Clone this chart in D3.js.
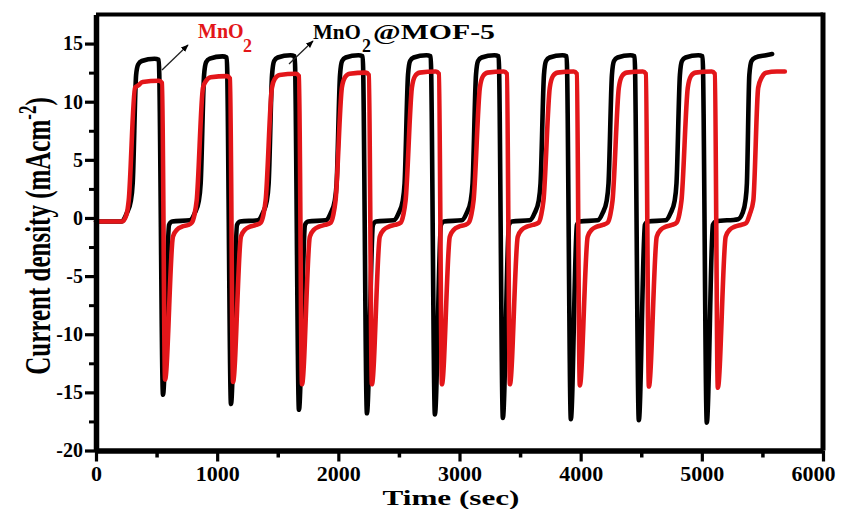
<!DOCTYPE html>
<html>
<head>
<meta charset="utf-8">
<script src="https://cdn.jsdelivr.net/npm/d3@7"></script>
<style>
  html, body { margin: 0; padding: 0; background: #fff; }
  svg { display: block; }
  text { font-family: "Liberation Serif", "Times New Roman", serif; font-weight: bold; }
</style>
</head>
<body>
<svg id="chart" width="841" height="509"></svg>
<script>
"use strict";

var xTicks = [0, 1000, 2000, 3000, 4000, 5000, 6000];
var xMinorTicks = [500, 1500, 2500, 3500, 4500, 5500];
var yTicks = [-20, -15, -10, -5, 0, 5, 10, 15];
var yMinorTicks = [-17.5, -12.5, -7.5, -2.5, 2.5, 7.5, 12.5];

var seriesNames = ["MnO2@MOF-5", "MnO2"];
var seriesColors = ["#000000", "#e3161a"];

// MnO2@MOF-5 : [time (sec), current density (mA cm-2)], one row per cycle
var mofPoints = [
  [0, -0.3], [213, -0.3], [253, 0.4], [288, 1.5], [303, 3.0], [331, 12.3], [348, 13.2], [378, 13.5], [483, 13.7], [518, 13.6], [553, -15.2], [603, -0.6], [628, -0.3],
  [774, -0.2], [814, 0.4], [849, 1.5], [864, 3.0], [892, 12.3], [909, 13.4], [939, 13.7], [1044, 13.9], [1079, 13.8], [1114, -16.0], [1164, -0.6], [1189, -0.3],
  [1335, -0.2], [1375, 0.4], [1410, 1.5], [1425, 3.0], [1453, 12.3], [1470, 13.5], [1500, 13.8], [1605, 14.0], [1640, 13.9], [1675, -16.5], [1725, -0.6], [1750, -0.3],
  [1896, -0.2], [1936, 0.4], [1971, 1.5], [1986, 3.0], [2014, 12.3], [2031, 13.5], [2061, 13.8], [2166, 14.0], [2201, 13.9], [2236, -16.8], [2286, -0.6], [2311, -0.3],
  [2457, -0.2], [2497, 0.4], [2532, 1.5], [2547, 3.0], [2575, 12.3], [2592, 13.5], [2622, 13.8], [2727, 14.0], [2762, 13.9], [2797, -16.9], [2847, -0.6], [2872, -0.3],
  [3018, -0.2], [3058, 0.4], [3093, 1.5], [3108, 3.0], [3136, 12.3], [3153, 13.5], [3183, 13.8], [3288, 14.0], [3323, 13.9], [3358, -17.2], [3408, -0.6], [3433, -0.3],
  [3579, -0.2], [3619, 0.4], [3654, 1.5], [3669, 3.0], [3697, 12.3], [3714, 13.5], [3744, 13.8], [3849, 14.0], [3884, 13.9], [3919, -17.3], [3969, -0.6], [3994, -0.3],
  [4140, -0.2], [4180, 0.4], [4215, 1.5], [4230, 3.0], [4258, 12.3], [4275, 13.5], [4305, 13.8], [4410, 14.0], [4445, 13.9], [4480, -17.4], [4530, -0.6], [4555, -0.3],
  [4701, -0.2], [4741, 0.4], [4776, 1.5], [4791, 3.0], [4819, 12.3], [4836, 13.5], [4866, 13.8], [4971, 14.0], [5006, 13.9], [5041, -17.6], [5091, -0.6], [5116, -0.3],
  [5300, -0.1], [5335, 0.4], [5360, 1.5], [5372, 3.0], [5392, 12.3], [5410, 13.5], [5440, 13.8], [5530, 14.0], [5580, 14.1]
];

// MnO2 : [time (sec), current density (mA cm-2)], one row per cycle
var mnoPoints = [
  [0, -0.3], [215, -0.3], [252, 0.3], [270, 1.5], [322, 11.2], [348, 11.4], [385, 11.7], [520, 11.8], [545, 11.6], [570, -13.9], [635, -1.6], [670, -1.0], [710, -0.75], [760, -0.6],
  [791, -0.4], [813, 0.3], [831, 1.5], [883, 11.2], [909, 11.8], [946, 12.1], [1081, 12.2], [1106, 12.0], [1131, -14.1], [1196, -1.6], [1231, -1.0], [1271, -0.75], [1321, -0.6],
  [1360, -0.4], [1382, 0.3], [1400, 1.5], [1452, 11.2], [1478, 12.0], [1515, 12.3], [1650, 12.4], [1675, 12.2], [1700, -14.3], [1765, -1.6], [1800, -1.0], [1840, -0.75], [1890, -0.6],
  [1937, -0.4], [1959, 0.3], [1977, 1.5], [2029, 11.2], [2055, 12.1], [2092, 12.4], [2227, 12.5], [2252, 12.3], [2277, -14.3], [2342, -1.6], [2377, -1.0], [2417, -0.75], [2467, -0.6],
  [2515, -0.4], [2537, 0.3], [2555, 1.5], [2607, 11.2], [2633, 12.2], [2670, 12.5], [2805, 12.6], [2830, 12.4], [2855, -14.3], [2920, -1.6], [2955, -1.0], [2995, -0.75], [3045, -0.6],
  [3076, -0.4], [3098, 0.3], [3116, 1.5], [3168, 11.2], [3194, 12.2], [3231, 12.5], [3366, 12.6], [3391, 12.4], [3416, -14.3], [3481, -1.6], [3516, -1.0], [3556, -0.75], [3606, -0.6],
  [3653, -0.4], [3675, 0.3], [3693, 1.5], [3745, 11.2], [3771, 12.2], [3808, 12.5], [3943, 12.6], [3968, 12.4], [3993, -14.4], [4058, -1.6], [4093, -1.0], [4133, -0.75], [4183, -0.6],
  [4223, -0.4], [4245, 0.3], [4263, 1.5], [4315, 11.2], [4341, 12.2], [4378, 12.5], [4513, 12.6], [4538, 12.4], [4563, -14.5], [4628, -1.6], [4663, -1.0], [4703, -0.75], [4753, -0.6],
  [4792, -0.4], [4814, 0.3], [4832, 1.5], [4884, 11.2], [4910, 12.2], [4947, 12.5], [5082, 12.6], [5107, 12.4], [5132, -14.6], [5197, -1.6], [5232, -1.0], [5272, -0.75], [5322, -0.6],
  [5365, -0.45], [5395, 0.3], [5425, 1.5], [5465, 11.2], [5495, 12.1], [5530, 12.5], [5620, 12.6], [5685, 12.6]
];

var width = 841, height = 509;
var plot = { left: 96, right: 823, top: 14.5, bottom: 450.5 };

var svg = d3.select("#chart");
svg.append("rect").attr("width", width).attr("height", height).attr("fill", "#fff");

var x = d3.scaleLinear().domain([0, 6000]).range([plot.left, plot.right]);
var y = d3.scaleLinear().domain([-20, 17.5]).range([plot.bottom, plot.top]);

var line = d3.line()
  .x(function (d) { return x(d[0]); })
  .y(function (d) { return y(d[1]); })
  .curve(d3.curveMonotoneX);

// black first, red drawn over it
[mofPoints, mnoPoints].forEach(function (pts, i) {
  svg.append("path")
    .datum(pts)
    .attr("class", "series")
    .attr("data-name", seriesNames[i])
    .attr("d", line)
    .attr("fill", "none")
    .attr("stroke", seriesColors[i])
    .attr("stroke-width", 4.6)
    .attr("stroke-linejoin", "round")
    .attr("stroke-linecap", "round");
});

// frame: top and right edges have no ticks
svg.append("line")
  .attr("x1", plot.left).attr("x2", plot.right)
  .attr("y1", plot.top).attr("y2", plot.top)
  .attr("stroke", "#000").attr("stroke-width", 4);
svg.append("line")
  .attr("x1", plot.right).attr("x2", plot.right)
  .attr("y1", plot.top - 2).attr("y2", plot.bottom)
  .attr("stroke", "#000").attr("stroke-width", 5);

function styleAxis(g, fontSize) {
  g.select(".domain").attr("stroke-width", 5.5);
  g.selectAll(".tick line").attr("stroke-width", 3.2);
  g.selectAll(".tick text")
    .attr("fill", "#000")
    .style("font-size", fontSize + "px")
    .style("font-family", "'Liberation Serif', 'Times New Roman', serif")
    .style("font-weight", "bold");
}

var yFormat = function (d) { return d < 0 ? "-" + Math.abs(d) : String(d); };

svg.append("g")
  .attr("transform", "translate(" + plot.left + ",0)")
  .call(d3.axisLeft(y).tickValues(yMinorTicks).tickSize(7).tickFormat(""))
  .call(function (g) { g.select(".domain").remove(); g.selectAll(".tick line").attr("stroke-width", 3); });

svg.append("g")
  .attr("transform", "translate(" + plot.left + ",0)")
  .call(d3.axisLeft(y).tickValues(yTicks).tickSize(11).tickSizeOuter(0).tickPadding(2).tickFormat(yFormat))
  .call(function (g) { styleAxis(g, 20); });

svg.append("g")
  .attr("transform", "translate(0," + plot.bottom + ")")
  .call(d3.axisBottom(x).tickValues(xMinorTicks).tickSize(7).tickFormat(""))
  .call(function (g) { g.select(".domain").remove(); g.selectAll(".tick line").attr("stroke-width", 3.5); });

svg.append("g")
  .attr("transform", "translate(0," + plot.bottom + ")")
  .call(d3.axisBottom(x).tickValues(xTicks).tickSize(11).tickSizeOuter(0).tickPadding(4).tickFormat(d3.format("d")))
  .call(function (g) {
    styleAxis(g, 22);
    // the last label sits a little left of its tick so it stays inside the picture
    g.selectAll(".tick text").filter(function (d) { return d === 6000; }).attr("dx", -10);
  });

// axis titles
svg.append("text")
  .attr("x", 451).attr("y", 505)
  .attr("text-anchor", "middle")
  .attr("textLength", 137)
  .attr("lengthAdjust", "spacingAndGlyphs")
  .style("font-size", "22px")
  .text("Time (sec)");

var yTitle = svg.append("text")
  .attr("transform", "translate(50,236) scale(1.45,1) rotate(-90)")
  .attr("text-anchor", "middle")
  .style("font-size", "25px");
yTitle.append("tspan").text("Current density (mAcm");
yTitle.append("tspan").attr("dy", -10).style("font-size", "17px").text("-2");
yTitle.append("tspan").attr("dy", 10).text(")");

// annotations with arrows
svg.append("defs").append("marker")
  .attr("id", "head")
  .attr("viewBox", "0 0 10 10")
  .attr("refX", 9).attr("refY", 5)
  .attr("markerWidth", 6).attr("markerHeight", 6)
  .attr("orient", "auto")
  .append("path").attr("d", "M0,1 L10,5 L0,9 Z").attr("fill", "#000");

svg.append("line")
  .attr("x1", 162).attr("y1", 70).attr("x2", 188).attr("y2", 45)
  .attr("stroke", "#222").attr("stroke-width", 1.3)
  .attr("marker-end", "url(#head)");
svg.append("line")
  .attr("x1", 289).attr("y1", 64).attr("x2", 313).attr("y2", 41)
  .attr("stroke", "#222").attr("stroke-width", 1.3)
  .attr("marker-end", "url(#head)");

var lab1 = svg.append("g").attr("fill", seriesColors[1]);
lab1.append("text").attr("x", 198).attr("y", 38).style("font-size", "20px").text("MnO");
lab1.append("text").attr("x", 243).attr("y", 52).style("font-size", "18px").text("2");

var lab2 = svg.append("g").attr("fill", seriesColors[0]);
lab2.append("text").attr("x", 313).attr("y", 39).style("font-size", "21px").text("MnO");
lab2.append("text").attr("x", 362).attr("y", 52).style("font-size", "18px").text("2");
lab2.append("text").attr("x", 373).attr("y", 39).style("font-size", "21px")
  .attr("textLength", 122).attr("lengthAdjust", "spacingAndGlyphs").text("@MOF-5");
</script>
</body>
</html>
